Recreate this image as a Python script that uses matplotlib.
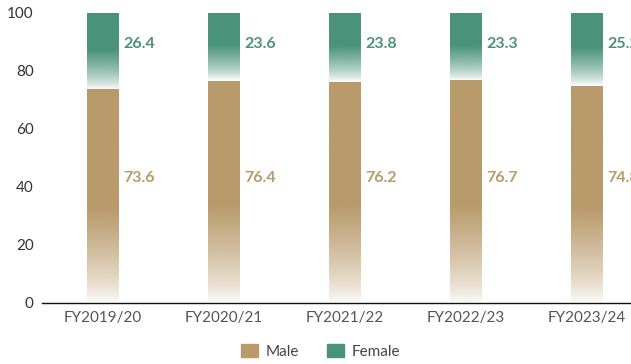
import numpy as np
import matplotlib
matplotlib.use("Agg")
import matplotlib.pyplot as plt
from matplotlib.patches import Rectangle
from matplotlib.colors import to_rgb

plt.rcParams['font.family'] = ['Lato', 'DejaVu Sans']

years = ['FY2019/20', 'FY2020/21', 'FY2021/22', 'FY2022/23', 'FY2023/24']
male = [73.6, 76.4, 76.2, 76.7, 74.8]
female = [26.4, 23.6, 23.8, 23.3, 25.2]

male_col = '#B99A6A'
female_col = '#4A9279'
bar_w = 0.26


def gradient_bar(ax, x, bottom, height, color, solid_from=0.5, a0=0.03):
    # alpha ramps up from the base of the segment, solid in the upper part
    n = 200
    t = np.linspace(0, 1, n)
    alpha = np.clip(t / solid_from, 0, 1) ** 0.75
    alpha = a0 + (1 - a0) * alpha
    img = np.zeros((n, 1, 4))
    img[..., :3] = to_rgb(color)
    img[:, 0, 3] = alpha
    ax.imshow(img, origin='lower', aspect='auto', interpolation='bilinear',
              extent=(x - bar_w / 2, x + bar_w / 2, bottom, bottom + height),
              zorder=2)


fig = plt.figure(figsize=(6.31, 3.64), dpi=100)
ax = fig.add_axes([0.0666, 0.1676, 0.9334, 0.7967])

x = np.arange(len(years))
for i in x:
    gradient_bar(ax, i, 0, male[i], male_col, solid_from=0.44, a0=0.03)
    gradient_bar(ax, i, male[i] + 0.35, female[i] - 0.35, female_col,
                 solid_from=0.52, a0=0.02)
    ax.text(i + bar_w / 2 + 0.045, 43, f'{male[i]:.1f}', color=male_col,
            fontsize=11.5, fontweight='bold', va='center', ha='left')
    ax.text(i + bar_w / 2 + 0.045, 89.3, f'{female[i]:.1f}', color=female_col,
            fontsize=11.5, fontweight='bold', va='center', ha='left')

ax.set_xlim(-0.5, 4.37)
ax.set_ylim(0, 100)
ax.set_yticks([0, 20, 40, 60, 80, 100])
ax.set_xticks(x)
ax.set_xticklabels(years)
ax.tick_params(axis='both', length=0, labelsize=11, colors='#333333')
ax.tick_params(axis='x', pad=6, colors='#555555')
ax.tick_params(axis='y', pad=6)
for s in ['top', 'right', 'left']:
    ax.spines[s].set_visible(False)
ax.spines['bottom'].set_color('#111111')
ax.spines['bottom'].set_linewidth(1.0)
ax.spines['bottom'].set_zorder(3)

handles = [Rectangle((0, 0), 1, 1, color=male_col),
           Rectangle((0, 0), 1, 1, color=female_col)]
fig.legend(handles, ['Male', 'Female'], loc='center', bbox_to_anchor=(0.508, 0.035),
           ncol=2, frameon=False, fontsize=11, handlelength=1.1,
           handleheight=1.0, columnspacing=1.8, handletextpad=0.5,
           labelcolor='#444444')

fig.savefig('out.png', dpi=100)
